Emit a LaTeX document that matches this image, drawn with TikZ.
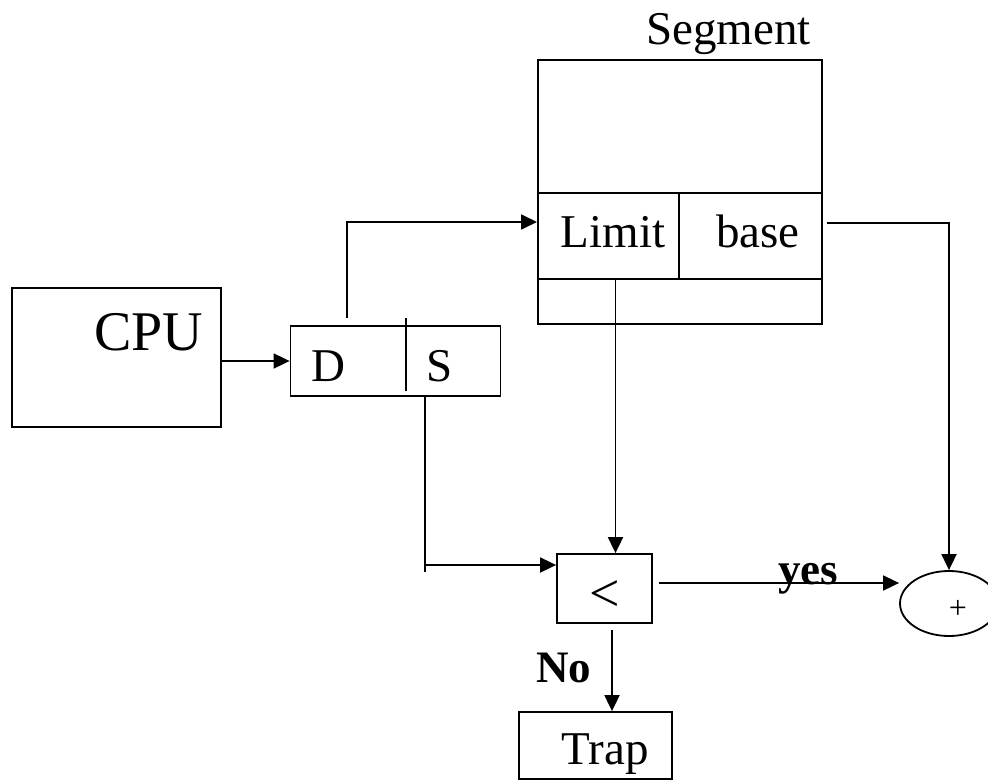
\documentclass[tikz,border=0pt]{standalone}
\usepackage{fontspec}
\setmainfont{Liberation Serif}
\usetikzlibrary{arrows.meta,shapes.geometric,positioning}

\begin{document}
\begin{tikzpicture}[x=1pt,y=-1pt,line width=1.8pt,
		>={Triangle[length=16pt,width=15pt]},
		box/.style={draw,rectangle,inner sep=0pt},
		txt/.style={inner sep=0pt,anchor=base,font=\fontsize{47}{52}\selectfont},
		lbl/.style={inner sep=0pt,anchor=base,font=\fontsize{45}{50}\selectfont\bfseries}]
			\useasboundingbox (0,0) rectangle (988,781);
			
			% CPU and selector register
			\node[box,minimum width=209,minimum height=139] (cpu) at (116.5,357.5) {};
			\node[txt,font=\fontsize{56}{60}\selectfont] (cpulbl) at (148.5,350) {CPU};
			\node[box,minimum width=210,minimum height=70] (reg) at (395.5,361) {};
			\draw (406,318) -- (406,391);
			\node[txt] (d) at (328,381) {D};
			\node[txt] (s) at (440,381) {S};
			
			% segment table
			\node[box,minimum width=284,minimum height=264,anchor=north west] (seg) at (537,59) {};
			\draw (537,193) -- (821,193);
			\draw (537,279) -- (821,279);
			\draw (679,193) -- (679,279);
			\node[txt] (limit) at (613,247) {Limit};
			\node[txt] (base) at (758,247) {base};
			\node[txt] (seglbl) at (728.5,45) {Segment};
			
			% comparator, adder, trap
			\node[box,minimum width=95,minimum height=69] (cmp) at (604.5,588.5) {};
			\node[txt,anchor=center,font=\fontsize{54}{58}\selectfont] (lt) at (605,596) {<};
			\node[draw,ellipse,minimum width=98,minimum height=65,inner sep=0pt] (sum) at (949,603.5) {};
			\node[inner sep=0pt,font=\fontsize{32}{34}\selectfont] (plus) at (958,609) {+};
			\node[box,minimum width=153,minimum height=67] (trap) at (595.5,745.5) {};
			\node[txt] (traplbl) at (605,764) {Trap};
			
			\node[lbl] (yes) at (808,584) {yes};
			\node[lbl] (no) at (563.5,682) {No};
			
			\coordinate (segin) at (537,222);
			\coordinate (limout) at (615.5,279);
			\coordinate (sbend) at (425,565);
			\coordinate (baseout) at (827,223);
			\coordinate (cmpout) at (659,583);
			\coordinate (cmpdown) at (612,630);
			
			\draw[->] (reg.west -| cpu.east) -- (reg.west);
			\draw[->] ([xshift=-48.5,yshift=7]reg.north) |- (segin);
			\draw[->] (limout) -- (limout |- cmp.north);
			\draw ([xshift=29.5]reg.south) -- ([yshift=-7]sbend);
			\draw[->] (sbend) -- (sbend -| cmp.west);
			\draw[->] (baseout) -| (sum.north);
			\draw[->] (cmpout) -- (cmpout -| sum.west);
			\draw[->] (cmpdown) -- (cmpdown |- trap.north);
		\end{tikzpicture}
\end{document}
